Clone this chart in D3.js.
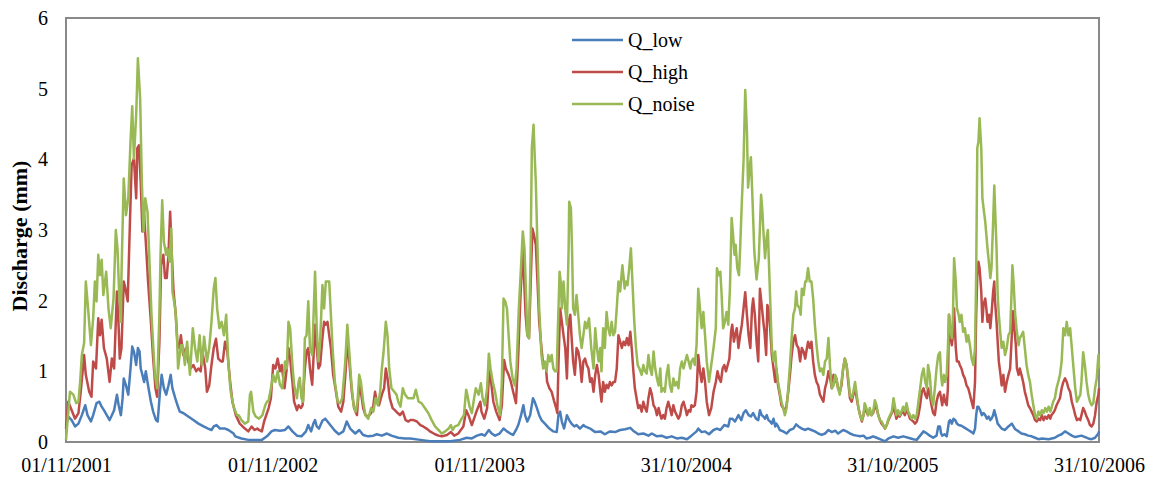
<!DOCTYPE html>
<html>
<head>
<meta charset="utf-8">
<script src="https://cdn.jsdelivr.net/npm/d3@7"></script>
<style>
  body { margin: 0; background: #fff; }
  svg { display: block; }
</style>
</head>
<body>
<svg id="chart" width="1150" height="478"></svg>
<script>
// day offsets from 01/11/2001, discharge in mm
const startDate = new Date(Date.UTC(2001, 10, 1));
const tickDays = [0, 365, 730, 1095, 1460, 1825];
const tickLabels = ["01/11/2001", "01/11/2002", "01/11/2003", "31/10/2004", "31/10/2005", "31/10/2006"];
const seriesNames = ["Q_low", "Q_high", "Q_noise"];

const qLow = [[0,0.24],[4,0.36],[10,0.31],[16,0.22],[22,0.26],[28,0.38],[34,0.52],[38,0.38],[44,0.29],[48,0.38],[54,0.55],[59,0.57],[63,0.50],[67,0.45],[72,0.38],[77,0.31],[81,0.38],[85,0.45],[90,0.67],[93,0.52],[97,0.38],[100,0.62],[102,0.90],[106,0.80],[110,0.67],[114,1.04],[117,1.35],[120,1.28],[124,1.09],[127,1.33],[130,1.28],[132,1.04],[135,0.95],[138,0.85],[141,1.00],[145,0.80],[150,0.57],[154,0.43],[159,0.31],[162,0.29],[166,0.71],[169,0.95],[173,0.76],[177,0.67],[181,0.80],[185,0.95],[188,0.76],[193,0.62],[197,0.52],[201,0.43],[207,0.41],[216,0.36],[225,0.31],[234,0.26],[243,0.22],[251,0.19],[257,0.17],[261,0.22],[266,0.24],[272,0.19],[281,0.19],[287,0.17],[296,0.12],
[299,0.08],[310,0.05],[322,0.03],[334,0.03],[346,0.03],[355,0.08],[363,0.15],[369,0.17],[378,0.16],[387,0.17],[393,0.22],[400,0.15],[408,0.09],[416,0.08],[424,0.15],[428,0.24],[433,0.15],[437,0.26],[440,0.31],[443,0.22],[447,0.19],[453,0.30],[458,0.33],[462,0.29],[469,0.22],[475,0.16],[482,0.11],[490,0.15],[496,0.29],[502,0.19],[511,0.12],[518,0.17],[525,0.10],[534,0.08],[543,0.09],[549,0.11],[558,0.09],[567,0.12],[575,0.09],[587,0.06],[599,0.05],
[608,0.05],[626,0.03],[643,0.01],[661,0.01],[679,0.01],[696,0.03],[708,0.06],[717,0.05],[726,0.09],[734,0.11],[740,0.09],[747,0.17],[752,0.12],[758,0.09],[766,0.12],[773,0.19],[779,0.15],[785,0.12],[790,0.10],[795,0.17],[799,0.24],[804,0.38],[808,0.52],[811,0.38],[815,0.29],[820,0.38],[825,0.62],[828,0.57],[832,0.48],[836,0.38],[840,0.31],[846,0.26],[854,0.19],[861,0.15],[867,0.14],[870,0.38],[873,0.43],[876,0.29],[880,0.19],[885,0.38],[889,0.31],[893,0.26],[898,0.22],[902,0.24],[908,0.19],[914,0.24],
[917,0.22],[926,0.19],[935,0.14],[944,0.15],[952,0.11],[961,0.15],[970,0.14],[979,0.17],[988,0.18],[997,0.20],[1002,0.16],[1011,0.11],[1020,0.12],[1029,0.09],[1035,0.12],[1044,0.08],[1052,0.09],[1061,0.06],[1070,0.08],[1079,0.05],[1088,0.06],[1097,0.04],[1105,0.09],[1114,0.15],[1117,0.19],[1123,0.14],[1129,0.15],[1136,0.11],[1144,0.17],[1150,0.19],[1156,0.17],[1163,0.24],[1170,0.22],[1173,0.33],[1177,0.33],[1182,0.29],[1188,0.38],[1193,0.31],[1197,0.41],[1201,0.45],[1206,0.38],[1210,0.36],[1214,0.41],[1219,0.33],[1223,0.31],
[1226,0.45],[1229,0.38],[1232,0.36],[1235,0.33],[1238,0.38],[1241,0.31],[1244,0.29],[1247,0.26],[1250,0.33],[1253,0.22],[1255,0.26],[1258,0.22],[1261,0.17],[1267,0.15],[1273,0.12],[1279,0.17],[1285,0.19],[1290,0.25],[1294,0.22],[1300,0.19],[1306,0.17],[1311,0.19],[1317,0.17],[1323,0.15],[1329,0.12],[1335,0.10],[1341,0.12],[1347,0.17],[1353,0.14],[1359,0.16],[1364,0.12],[1373,0.17],[1379,0.15],[1385,0.12],[1391,0.10],[1397,0.09],[1403,0.08],[1409,0.09],[1414,0.05],[1420,0.06],[1426,0.08],[1432,0.06],[1438,0.04],[1447,0.01],[1453,0.05],[1462,0.08],[1470,0.06],[1479,0.08],[1488,0.06],[1497,0.04],[1503,0.03],[1509,0.09],[1515,0.15],[1521,0.12],[1526,0.09],[1532,0.06],[1538,0.09],
[1541,0.22],[1544,0.22],[1546,0.12],[1548,0.09],[1552,0.11],[1556,0.08],[1560,0.29],[1562,0.31],[1565,0.26],[1568,0.33],[1571,0.31],[1574,0.26],[1577,0.24],[1582,0.23],[1588,0.20],[1594,0.17],[1600,0.14],[1603,0.12],[1606,0.19],[1608,0.38],[1610,0.50],[1612,0.50],[1615,0.45],[1618,0.38],[1621,0.41],[1624,0.38],[1627,0.33],[1630,0.36],[1633,0.31],[1635,0.33],[1638,0.38],[1640,0.45],[1643,0.36],[1646,0.26],[1650,0.22],[1653,0.19],[1659,0.17],[1665,0.22],[1671,0.26],[1677,0.18],[1683,0.15],[1688,0.12],[1694,0.11],[1700,0.09],[1706,0.08],[1712,0.06],[1718,0.04],[1724,0.05],[1736,0.04],[1747,0.06],[1753,0.09],[1759,0.11],[1765,0.15],[1771,0.12],[1777,0.09],[1783,0.07],[1794,0.09],[1806,0.05],[1812,0.04],[1818,0.06],[1824,0.12],[1825,0.15]];

const qHigh = [[0,0.19],[4,0.57],[10,0.45],[16,0.33],[22,0.41],[26,0.71],[32,1.23],[35,0.95],[41,0.71],[45,0.64],[48,1.14],[53,1.04],[57,1.75],[60,1.51],[63,1.73],[67,1.33],[72,1.18],[77,0.85],[81,1.18],[85,1.04],[90,2.13],[92,1.84],[95,1.18],[98,1.33],[102,2.27],[105,2.17],[109,1.99],[113,3.12],[116,3.92],[120,4.01],[124,3.45],[126,4.16],[129,4.20],[132,3.68],[135,2.98],[138,3.21],[141,2.83],[145,2.27],[150,1.70],[154,1.18],[158,0.76],[161,0.64],[165,1.42],[168,2.50],[172,2.65],[175,2.32],[178,2.32],[181,2.65],[184,3.26],[187,2.65],[190,2.13],[194,1.80],[197,1.37],[200,1.33],[203,1.51],[207,1.23],[212,1.33],[216,1.14],[220,1.04],[225,1.09],[230,1.00],[234,1.04],[238,1.00],[241,1.28],[246,1.04],[249,0.71],[253,0.80],[257,1.09],[261,1.33],[265,1.46],[269,1.18],[274,1.14],[277,1.14],[281,1.42],[285,1.28],[290,0.85],[294,0.57],[300,0.38],
[307,0.26],[316,0.19],[322,0.15],[328,0.22],[333,0.17],[338,0.19],[341,0.17],[346,0.15],[350,0.29],[355,0.41],[358,0.48],[362,0.62],[366,1.09],[370,1.04],[374,1.18],[378,1.0],[381,1.09],[386,0.76],[390,1.04],[393,1.33],[396,1.18],[400,0.85],[403,0.57],[408,0.45],[411,0.52],[415,0.48],[418,0.52],[422,1.04],[425,1.28],[428,1.33],[431,1.04],[435,0.81],[440,1.66],[443,1.33],[446,1.04],[449,1.09],[453,1.47],[456,1.70],[459,1.66],[462,1.70],[465,1.51],[468,1.33],[472,0.95],[476,0.76],[481,0.50],[486,0.43],[490,0.57],[494,1.0],[497,1.42],[500,1.18],[505,0.71],[509,0.48],[514,0.38],[518,0.80],[521,0.71],[525,0.48],[529,0.38],[534,0.36],[539,0.41],[543,0.52],[546,0.71],[549,0.57],[553,0.52],[558,0.67],[562,0.76],[565,1.04],[568,0.90],[572,0.62],[577,0.48],[581,0.45],[586,0.41],[590,0.38],[595,0.43],[600,0.31],[605,0.29],
[608,0.31],[614,0.31],[620,0.29],[626,0.24],[631,0.22],[637,0.19],[643,0.15],[652,0.11],[658,0.09],[664,0.08],[673,0.10],[680,0.14],[686,0.09],[693,0.12],[702,0.22],[707,0.45],[711,0.38],[717,0.24],[723,0.38],[726,0.45],[732,0.57],[734,0.43],[739,0.33],[744,0.48],[748,1.04],[751,0.85],[755,0.57],[760,0.43],[766,0.31],[770,0.52],[774,1.16],[777,1.04],[782,0.95],[786,0.85],[790,0.71],[795,0.55],[799,1.23],[803,2.08],[807,2.74],[809,2.36],[812,1.80],[815,1.51],[818,1.47],[821,2.27],[824,3.02],[827,2.92],[830,2.79],[833,2.27],[836,1.70],[840,1.33],[843,1.09],[848,1.04],[850,0.85],[854,0.76],[858,0.71],[862,0.59],[866,0.48],[868,0.41],[870,1.09],[873,1.89],[876,1.70],[879,1.51],[882,1.33],[885,0.90],[888,1.70],[891,1.80],[893,1.51],[896,1.14],[899,0.95],[902,1.33],[905,1.28],[908,1.14],[911,0.85],[914,1.14],
[917,1.18],[920,1.09],[923,1.04],[926,0.85],[929,0.90],[932,0.71],[935,0.95],[938,1.09],[941,0.95],[944,0.71],[946,0.57],[949,0.85],[952,0.71],[955,0.81],[958,0.76],[961,0.85],[964,0.80],[967,0.85],[970,0.85],[973,1.04],[976,1.51],[979,1.42],[982,1.33],[985,1.42],[988,1.37],[991,1.47],[994,1.37],[997,1.56],[1000,1.28],[1002,1.04],[1005,0.76],[1008,0.62],[1011,0.48],[1014,0.52],[1017,0.43],[1020,0.57],[1023,0.48],[1026,0.43],[1029,0.62],[1032,0.76],[1035,0.67],[1038,0.52],[1041,0.48],[1044,0.38],[1047,0.48],[1050,0.38],[1052,0.33],[1055,0.38],[1058,0.33],[1061,0.48],[1064,0.57],[1067,0.48],[1070,0.38],[1073,0.52],[1076,0.43],[1079,0.38],[1082,0.33],[1085,0.38],[1088,0.52],[1091,0.57],[1094,0.48],[1097,0.38],[1100,0.45],[1103,0.43],[1105,0.52],[1108,0.50],[1111,0.52],[1114,0.71],[1117,1.23],[1120,1.0],[1123,0.85],[1126,1.04],[1129,0.85],[1132,0.57],[1136,0.38],[1140,0.48],[1144,0.71],[1148,0.85],[1151,1.0],[1154,0.90],[1157,0.85],[1160,1.04],[1163,1.09],[1166,1.0],[1169,1.09],[1172,1.18],[1175,1.56],[1177,1.66],[1180,1.42],[1182,1.51],[1185,1.61],[1188,1.33],[1191,1.51],[1194,1.66],[1197,1.89],[1200,2.12],[1203,1.80],[1206,1.51],[1209,1.33],[1212,1.89],[1214,2.03],[1217,1.80],[1220,1.42],[1223,1.14],
[1226,2.17],[1229,1.94],[1232,1.70],[1234,1.56],[1237,1.23],[1239,1.94],[1241,1.89],[1244,1.61],[1247,1.23],[1250,1.04],[1253,0.85],[1255,1.04],[1258,0.80],[1261,0.67],[1264,0.52],[1267,0.48],[1270,0.43],[1273,0.52],[1276,0.71],[1279,0.95],[1282,1.23],[1285,1.42],[1288,1.51],[1291,1.37],[1294,1.33],[1297,1.14],[1300,1.33],[1303,1.28],[1306,1.18],[1308,1.28],[1311,1.42],[1314,1.33],[1317,1.42],[1320,1.14],[1323,0.95],[1326,0.85],[1329,0.80],[1332,0.67],[1335,0.62],[1338,0.57],[1341,0.76],[1344,0.85],[1347,1.0],[1350,0.90],[1353,0.76],[1356,0.95],[1359,0.85],[1361,0.90],[1364,0.76],[1367,0.71],[1370,0.80],[1373,1.04],[1376,1.18],[1379,1.09],[1382,0.85],[1385,0.62],[1388,0.57],[1391,0.67],[1394,0.76],[1397,0.62],[1400,0.48],[1403,0.38],[1406,0.29],[1409,0.38],[1411,0.50],[1414,0.43],[1417,0.38],[1420,0.45],[1423,0.38],[1426,0.41],[1429,0.50],[1432,0.48],[1435,0.38],[1438,0.31],[1441,0.26],[1444,0.23],[1447,0.19],[1450,0.24],[1453,0.31],[1456,0.36],[1459,0.41],[1462,0.48],[1465,0.41],[1467,0.33],[1470,0.38],[1473,0.36],[1476,0.41],[1479,0.43],[1482,0.38],[1485,0.45],[1488,0.41],[1491,0.33],[1494,0.31],[1497,0.29],[1500,0.26],[1503,0.29],[1506,0.38],[1509,0.52],[1512,0.71],[1515,0.76],[1518,0.67],[1521,0.62],[1523,0.76],[1526,0.67],[1529,0.52],[1532,0.41],[1535,0.38],[1538,0.57],
[1541,0.67],[1544,0.71],[1546,0.62],[1548,0.52],[1551,0.67],[1553,0.57],[1556,0.52],[1558,0.76],[1560,1.80],[1562,1.51],[1565,1.37],[1567,1.51],[1569,1.89],[1572,1.33],[1574,1.14],[1577,1.14],[1579,1.09],[1582,1.04],[1585,0.95],[1588,0.90],[1591,0.80],[1594,0.76],[1597,0.67],[1600,0.57],[1603,0.48],[1606,0.85],[1608,1.80],[1610,2.36],[1612,2.55],[1614,2.46],[1617,2.13],[1619,1.70],[1621,1.94],[1624,2.03],[1626,1.89],[1628,1.70],[1631,1.80],[1633,1.61],[1635,1.80],[1638,2.13],[1640,2.27],[1641,2.03],[1644,1.70],[1646,1.42],[1648,1.14],[1651,0.95],[1653,0.80],[1656,0.95],[1659,0.71],[1662,0.85],[1665,0.95],[1668,1.04],[1671,1.51],[1673,1.85],[1675,1.66],[1678,1.38],[1680,1.04],[1683,0.95],[1685,1.04],[1688,0.95],[1691,0.85],[1694,0.71],[1697,0.62],[1700,0.52],[1703,0.48],[1706,0.43],[1709,0.38],[1712,0.31],[1715,0.29],[1718,0.33],[1721,0.31],[1724,0.38],[1727,0.31],[1730,0.36],[1733,0.33],[1736,0.38],[1739,0.33],[1741,0.38],[1744,0.41],[1747,0.45],[1750,0.52],[1753,0.57],[1756,0.62],[1759,0.76],[1762,0.85],[1765,0.90],[1768,0.85],[1771,0.76],[1774,0.71],[1777,0.57],[1780,0.48],[1783,0.38],[1786,0.31],[1789,0.33],[1792,0.31],[1794,0.38],[1797,0.48],[1800,0.43],[1803,0.36],[1806,0.31],[1809,0.24],[1812,0.22],[1815,0.26],[1818,0.38],[1821,0.57],[1824,0.67],[1825,0.76]];

const qNoise = [[0,0.03],[7,0.71],[13,0.67],[18,0.55],[22,0.57],[25,0.85],[28,1.23],[32,1.40],[35,2.27],[39,1.89],[44,1.37],[48,1.75],[51,2.27],[54,1.99],[57,2.65],[60,2.36],[63,2.58],[66,2.08],[71,2.41],[75,1.89],[79,1.61],[84,2.03],[88,3.0],[91,2.74],[94,2.08],[97,1.70],[98,2.36],[102,3.73],[106,3.21],[110,3.45],[114,4.25],[117,4.75],[120,4.01],[124,4.63],[127,5.43],[131,4.86],[134,3.68],[137,2.98],[140,3.45],[144,3.26],[147,2.65],[151,1.80],[157,0.95],[161,0.76],[165,1.80],[167,2.65],[170,3.42],[173,2.83],[177,2.65],[179,2.74],[183,2.55],[186,3.02],[188,2.13],[193,1.89],[196,1.51],[198,1.04],[203,1.37],[206,1.37],[210,1.09],[214,1.42],[219,0.95],[224,1.61],[228,1.33],[232,1.14],[236,1.51],[240,1.09],[244,1.49],[249,1.14],[253,1.33],[257,1.70],[261,2.17],[264,2.32],[267,1.89],[271,1.61],[275,1.70],[279,1.51],[283,1.80],[287,1.09],[291,0.71],[296,0.50],[302,0.38],
[305,0.38],[310,0.31],[316,0.26],[322,0.29],[325,0.67],[327,0.71],[331,0.43],[335,0.36],[341,0.33],[347,0.38],[352,0.52],[355,0.57],[358,0.59],[362,0.76],[366,0.95],[370,0.85],[374,1.0],[378,0.81],[382,0.76],[387,1.14],[390,1.04],[393,1.70],[396,1.61],[400,1.09],[403,0.81],[408,0.62],[411,0.85],[413,0.91],[416,0.62],[419,0.57],[422,1.47],[425,1.51],[428,1.99],[431,1.33],[435,1.23],[440,2.41],[443,1.61],[446,1.14],[449,1.42],[453,2.22],[456,1.89],[459,2.27],[462,2.27],[465,2.27],[468,1.80],[471,1.33],[475,0.85],[480,0.57],[484,0.55],[488,0.62],[493,1.09],[497,1.66],[500,1.33],[504,0.85],[508,0.52],[512,0.43],[515,0.57],[518,0.95],[521,0.85],[525,0.57],[529,0.38],[534,0.33],[539,0.48],[543,0.43],[547,0.62],[551,0.52],[555,0.71],[558,1.04],[561,1.27],[565,1.70],[568,1.51],[571,1.04],[575,0.76],[580,0.71],[584,0.67],[587,0.57],[591,0.50],[595,0.76],[599,0.67],[604,0.62],
[608,0.62],[614,0.62],[618,0.74],[623,0.57],[628,0.55],[634,0.48],[640,0.41],[646,0.31],[652,0.22],[658,0.17],[664,0.12],[670,0.15],[676,0.19],[680,0.24],[683,0.17],[687,0.22],[693,0.24],[699,0.33],[703,0.38],[707,0.74],[709,0.67],[713,0.50],[717,0.41],[721,0.62],[724,0.76],[729,0.67],[733,0.83],[736,0.62],[740,0.52],[744,0.76],[747,1.25],[750,1.04],[754,0.85],[758,0.71],[762,0.52],[767,0.38],[770,0.85],[773,2.03],[776,1.99],[779,1.89],[782,1.51],[785,1.14],[789,0.90],[793,0.80],[796,1.04],[800,1.89],[804,2.50],[807,2.98],[810,2.74],[813,2.03],[815,1.51],[818,1.47],[821,2.74],[823,4.16],[826,4.49],[828,4.06],[830,3.68],[833,2.74],[836,1.89],[840,1.23],[843,1.04],[846,1.14],[849,1.0],[852,1.23],[855,1.14],[858,1.23],[861,1.04],[864,1.0],[867,1.0],[869,1.61],[872,2.41],[874,2.27],[876,1.89],[879,2.27],[882,1.89],[885,1.66],[888,2.74],[889,3.40],[892,3.31],[894,2.74],[896,1.89],[899,1.80],[902,2.08],[905,1.80],[908,1.51],[911,1.33],[914,1.51],
[917,1.70],[920,1.61],[924,1.75],[928,1.33],[932,1.04],[935,1.61],[938,1.33],[941,1.14],[944,1.33],[946,1.0],[949,1.61],[952,1.33],[955,1.84],[958,1.61],[961,1.51],[964,1.70],[967,1.51],[970,1.56],[973,1.89],[976,2.27],[979,2.13],[983,2.50],[987,2.17],[989,2.27],[992,2.22],[995,2.46],[998,2.74],[1001,2.22],[1004,1.70],[1007,1.33],[1010,1.09],[1013,1.04],[1017,0.95],[1020,1.09],[1023,1.0],[1026,0.97],[1029,1.23],[1032,1.04],[1035,0.95],[1038,1.28],[1041,1.04],[1044,0.90],[1047,0.80],[1050,1.04],[1052,0.71],[1055,0.76],[1058,0.71],[1061,0.95],[1064,1.09],[1067,0.80],[1070,0.71],[1073,0.90],[1076,0.80],[1079,0.85],[1082,0.76],[1085,1.04],[1088,1.14],[1091,1.04],[1094,1.14],[1097,1.23],[1100,1.14],[1103,1.04],[1105,1.14],[1108,1.18],[1111,1.09],[1114,1.37],[1117,2.17],[1120,1.89],[1123,1.61],[1126,1.84],[1129,1.51],[1132,1.14],[1136,0.85],[1140,1.09],[1144,1.33],[1148,1.61],[1150,2.46],[1153,2.36],[1156,2.41],[1158,2.13],[1161,1.61],[1164,1.70],[1167,1.84],[1170,1.66],[1173,2.17],[1176,3.17],[1178,2.98],[1181,2.65],[1183,2.79],[1186,2.46],[1189,2.36],[1191,2.74],[1194,3.40],[1197,3.97],[1200,4.98],[1203,4.40],[1205,3.60],[1208,3.90],[1210,4.03],[1213,3.40],[1216,2.70],[1220,2.30],[1224,2.60],
[1228,3.50],[1230,3.30],[1232,3.00],[1235,2.60],[1238,2.90],[1240,3.00],[1242,2.50],[1245,1.80],[1247,1.33],[1250,1.14],[1253,1.28],[1255,1.04],[1258,0.85],[1261,0.71],[1264,0.57],[1267,0.48],[1270,0.38],[1273,0.48],[1276,0.76],[1279,1.09],[1282,1.47],[1285,1.80],[1288,1.89],[1290,2.13],[1292,1.94],[1296,1.89],[1298,1.80],[1300,2.17],[1303,2.08],[1306,2.27],[1308,2.27],[1311,2.46],[1314,2.27],[1317,2.27],[1320,2.03],[1323,1.66],[1326,1.37],[1329,1.14],[1332,1.0],[1335,1.04],[1338,0.95],[1341,1.14],[1344,1.18],[1347,1.47],[1350,1.04],[1353,0.76],[1356,0.80],[1359,0.95],[1361,0.90],[1364,0.76],[1367,0.67],[1370,0.85],[1373,1.04],[1376,1.18],[1379,1.09],[1382,0.90],[1385,0.67],[1388,0.62],[1391,0.71],[1394,0.85],[1397,0.67],[1400,0.48],[1403,0.38],[1406,0.31],[1409,0.38],[1411,0.55],[1414,0.48],[1417,0.38],[1420,0.48],[1423,0.38],[1426,0.43],[1429,0.59],[1432,0.52],[1435,0.38],[1438,0.31],[1441,0.29],[1444,0.24],[1447,0.19],[1450,0.24],[1453,0.33],[1456,0.38],[1459,0.43],[1462,0.62],[1465,0.48],[1467,0.38],[1470,0.45],[1473,0.38],[1476,0.43],[1479,0.50],[1482,0.43],[1485,0.55],[1488,0.43],[1491,0.38],[1494,0.33],[1497,0.38],[1500,0.33],[1503,0.38],[1506,0.57],[1509,0.76],[1512,0.95],[1515,1.04],[1518,0.85],[1521,0.76],[1523,1.09],[1526,0.95],[1529,0.62],[1532,0.52],[1535,0.76],[1538,1.04],
[1541,1.23],[1544,1.27],[1546,0.95],[1548,0.80],[1551,0.95],[1553,0.85],[1556,0.95],[1558,1.33],[1560,1.80],[1562,1.61],[1565,1.47],[1567,1.80],[1569,2.60],[1572,2.27],[1574,1.89],[1577,1.80],[1579,1.70],[1582,1.80],[1585,1.56],[1588,1.61],[1591,1.42],[1594,1.51],[1597,1.37],[1600,1.18],[1603,1.09],[1606,1.33],[1608,2.36],[1610,4.16],[1612,4.25],[1614,4.58],[1617,4.16],[1619,3.45],[1621,3.31],[1624,3.12],[1626,2.93],[1628,2.74],[1631,2.50],[1633,2.32],[1635,2.46],[1638,3.12],[1640,3.63],[1641,3.40],[1644,2.74],[1646,2.08],[1648,1.80],[1651,1.51],[1653,1.33],[1656,1.42],[1659,1.23],[1662,1.33],[1665,1.51],[1668,1.56],[1670,1.99],[1672,2.50],[1674,2.27],[1677,1.80],[1680,1.56],[1683,1.37],[1685,1.47],[1688,1.51],[1691,1.56],[1694,1.33],[1697,1.09],[1700,0.95],[1703,0.85],[1706,0.67],[1709,0.52],[1712,0.38],[1715,0.33],[1718,0.43],[1721,0.38],[1724,0.45],[1727,0.41],[1730,0.48],[1733,0.43],[1736,0.50],[1739,0.43],[1741,0.48],[1744,0.57],[1747,0.62],[1750,0.76],[1753,0.85],[1756,0.95],[1759,1.14],[1762,1.61],[1765,1.51],[1768,1.70],[1771,1.51],[1774,1.61],[1777,1.33],[1780,1.04],[1783,0.76],[1786,0.57],[1789,0.62],[1792,0.67],[1794,0.85],[1797,1.27],[1800,1.09],[1803,0.85],[1806,0.67],[1809,0.57],[1812,0.52],[1815,0.55],[1818,0.76],[1821,0.90],[1824,1.23],[1825,1.04]];

const colors = ["#4a7ebb", "#be4b48", "#98b954"];
const serif = "'Liberation Serif', 'Times New Roman', serif";

// plot area box (Excel style)
const plot = {left: 66, right: 1099, top: 18, bottom: 442};
const toDate = d => d3.utcDay.offset(startDate, d);

const svg = d3.select("#chart");

const x = d3.scaleUtc()
  .domain([toDate(0), toDate(1825)])
  .range([plot.left, plot.right]);

const y = d3.scaleLinear()
  .domain([0, 6])
  .range([plot.bottom, plot.top]);

//Plot border
svg.append("rect")
  .attr("x", plot.left)
  .attr("y", plot.top)
  .attr("width", plot.right - plot.left)
  .attr("height", plot.bottom - plot.top)
  .attr("fill", "none")
  .attr("stroke", "#898989")
  .attr("stroke-width", 2);

//Y axis
const yAxis = svg.append("g")
  .attr("transform", `translate(${plot.left},0)`)
  .call(d3.axisLeft(y).tickValues(d3.range(0, 7)).tickSize(0).tickPadding(18).tickFormat(d3.format("d")));
yAxis.select(".domain").remove();
yAxis.selectAll("text")
  .attr("font-family", serif)
  .attr("font-size", 20)
  .attr("fill", "#000");

//X axis with day-offset ticks
const xAxis = svg.append("g")
  .attr("transform", `translate(0,${plot.bottom})`)
  .call(d3.axisBottom(x)
    .tickValues(tickDays.map(toDate))
    .tickSize(0)
    .tickPadding(16)
    .tickFormat((d, i) => tickLabels[i]));
xAxis.select(".domain").remove();
xAxis.selectAll("text")
  .attr("font-family", serif)
  .attr("font-size", 20)
  .attr("fill", "#000");

//Axis title
svg.append("text")
  .attr("transform", "translate(27,236) rotate(-90)")
  .attr("text-anchor", "middle")
  .attr("font-family", serif)
  .attr("font-weight", "bold")
  .attr("font-size", 22)
  .text("Discharge (mm)");

//Lines
const line = d3.line()
  .x(d => x(toDate(d[0])))
  .y(d => y(d[1]));

[qLow, qHigh, qNoise].forEach((series, i) => {
  svg.append("path")
    .datum(series)
    .attr("d", line)
    .attr("fill", "none")
    .attr("stroke", colors[i])
    .attr("stroke-width", 2.5)
    .attr("stroke-linejoin", "round");
});

//Legend
const legend = svg.append("g").attr("transform", "translate(572,40)");
seriesNames.forEach((name, i) => {
  const row = legend.append("g").attr("transform", `translate(0,${i * 32})`);
  row.append("line")
    .attr("x1", 0).attr("x2", 51)
    .attr("stroke", colors[i])
    .attr("stroke-width", 2.5);
  row.append("text")
    .attr("x", 56)
    .attr("dy", "0.35em")
    .attr("font-family", serif)
    .attr("font-size", 20)
    .text(name);
});
</script>
</body>
</html>
